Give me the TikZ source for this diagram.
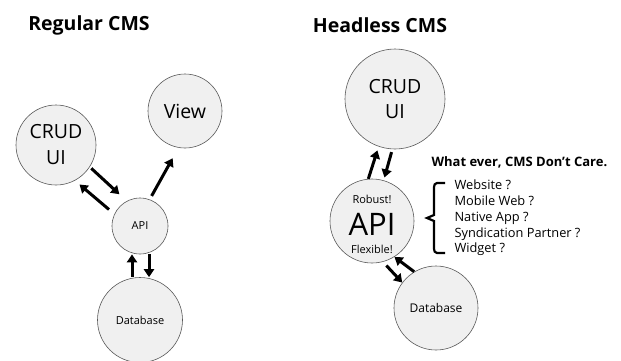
\documentclass[tikz,border=0pt]{standalone}
\usepackage{fontspec}
\setmainfont{Open Sans}
\usetikzlibrary{arrows.meta}

\tikzset{
  bubble/.style={circle, draw=black!65, fill=black!6, line width=0.6pt, inner sep=0pt, align=center},
  flow/.style={line width=3pt, -{Triangle[width=10pt,length=8pt]}},
  title/.style={font=\bfseries\fontsize{19.5}{22}\selectfont},
}

\begin{document}
\begin{tikzpicture}[x=1pt, y=-1pt]
    \useasboundingbox (0,0) rectangle (621,360);

    % regular cms
    \node[title] (regT) at (89,25) {Regular CMS};
    \node[bubble, minimum size=80pt, font=\fontsize{19.5}{26}\selectfont] (crudL) at (56,145) {CRUD\\UI};
    \node[bubble, minimum size=74pt, font=\fontsize{19.5}{22}\selectfont] (viewL) at (185,111) {View};
    \node[bubble, minimum size=56pt, font=\fontsize{11}{13}\selectfont] (apiL) at (140,226) {API};
    \node[bubble, minimum size=85pt, font=\fontsize{11}{13}\selectfont] (dbL) at (140,320) {Database};

    \draw[flow, shorten <=2pt, shorten >=10pt] (crudL.-33) -- (apiL.118);
    \draw[flow, shorten <=7pt, shorten >=6pt] (apiL.155) -- (crudL.-62);
    \draw[flow, shorten <=4pt, shorten >=12pt] (apiL.70) -- (viewL.-100);
    \draw[flow] ([xshift=-8pt]dbL.north) -- ([xshift=-8pt]apiL.south);
    \draw[flow] ([xshift=9pt]apiL.south) -- ([xshift=9pt]dbL.north);

    % headless cms
    \node[title] (hlT) at (380,25) {Headless CMS};
    \node[bubble, minimum size=100pt, font=\fontsize{19.5}{25}\selectfont] (crudR) at (395,99) {CRUD\\UI};
    \node[bubble, minimum size=84pt] (apiR) at (372,221) {};
    \node[font=\fontsize{11}{13}\selectfont] (robust) at (372,199) {Robust!};
    \node[font=\fontsize{31}{34}\selectfont] (apiTxt) at (372,224) {API};
    \node[font=\fontsize{11}{13}\selectfont] (flex) at (372,249) {Flexible!};
    \node[bubble, minimum size=84pt, font=\fontsize{12}{14}\selectfont] (dbR) at (436,308) {Database};

    \draw[flow, shorten >=4pt] (apiR.95) -- (crudR.-109);
    \draw[flow, shorten <=3pt, shorten >=3pt] (crudR.-93) -- (apiR.74);
    \draw[flow, shorten <=5pt] (apiR.-75) -- (dbR.143);
    \draw[flow] (dbR.121) -- (apiR.-58);

    \node[anchor=west, font=\bfseries\fontsize{13}{15}\selectfont] (care) at (428,162) {What ever, CMS Don't Care.};
    \node[anchor=west, align=left, font=\fontsize{12.8}{15.7}\selectfont] (targets) at (451,218)
        {Website ?\\Mobile Web ?\\Native App ?\\Syndication Partner ?\\Widget ?};
    \draw[line width=2.2pt] (445,183) -- (437,183) to[out=180, in=90] (434,187) -- (434,215)
        -- (427,218) -- (434,221) -- (434,249) to[out=-90, in=180] (437,253) -- (445,253);
\end{tikzpicture}
\end{document}
